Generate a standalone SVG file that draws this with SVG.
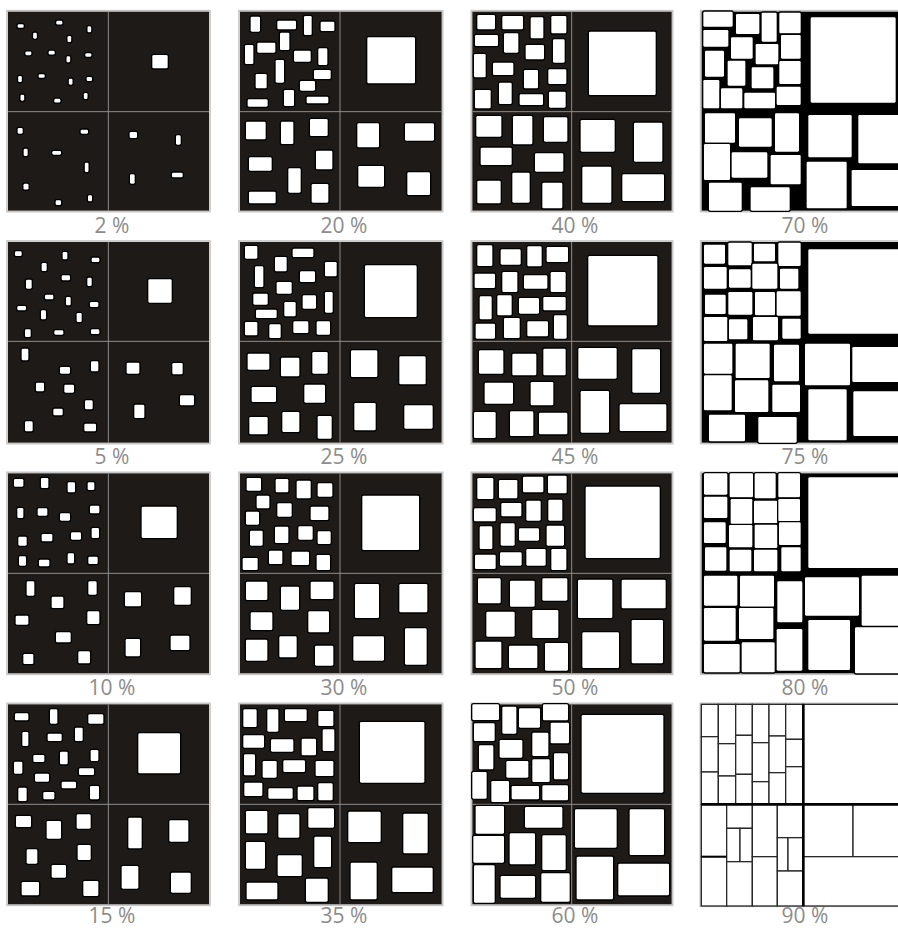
<svg xmlns="http://www.w3.org/2000/svg" width="898" height="930" viewBox="0 0 898 930">
<style>
.pg{fill:#fff}
.bg{fill:#1e1a17}
.bk{fill:#000}
.fr{fill:none;stroke:#c6c6c6;stroke-width:5}
.dv{stroke:#8e8e8e;stroke-width:3;fill:none}
.r rect{fill:#fff;stroke:#000;stroke-width:8;paint-order:stroke;rx:4px}
.g rect{fill:#fff;stroke:#2a2a2a;stroke-width:4}
.thick{stroke:#000;stroke-width:8;fill:none}
.lb{font-family:"Open Sans","DejaVu Sans",sans-serif;font-size:21px;fill:#8c8c8c;text-anchor:middle}
</style>
<rect class="pg" x="0" y="0" width="898" height="930"/>

<!-- Row 1 -->
<g id="panel-2">
<g transform="translate(0 0) scale(0.333333)">
<rect class="fr" x="21" y="32" width="609" height="603"/><rect class="bg" x="24" y="35" width="603" height="597"/>
<path class="dv" d="M325 35V632M24 335H627"/>
<g class="r">
<rect x="53" y="72.5" width="18" height="11"/><rect x="169" y="62.5" width="18" height="11"/><rect x="262.5" y="79" width="11" height="18"/><rect x="99.5" y="98" width="11" height="18"/>
<rect x="202.5" y="108" width="11" height="18"/><rect x="76" y="154.5" width="18" height="11"/><rect x="146" y="152.5" width="18" height="11"/><rect x="256" y="159.5" width="18" height="11"/>
<rect x="199.5" y="169" width="11" height="18"/><rect x="54.5" y="228" width="11" height="18"/><rect x="116" y="222.5" width="18" height="11"/><rect x="206.5" y="236" width="11" height="18"/>
<rect x="260" y="231" width="16" height="12"/><rect x="61.5" y="284" width="11" height="18"/><rect x="163" y="296.5" width="18" height="11"/><rect x="251.5" y="279" width="11" height="18"/>
<rect x="457" y="165" width="46" height="40"/>
<rect x="53" y="384" width="15" height="17"/><rect x="242" y="389" width="22" height="12"/><rect x="71" y="446" width="12" height="22"/><rect x="157" y="453" width="26" height="11"/>
<rect x="254.5" y="488" width="11" height="28"/><rect x="70.5" y="551.5" width="15" height="17"/><rect x="167" y="601" width="16" height="14"/><rect x="264" y="586" width="12" height="18"/>
<rect x="389" y="396" width="22" height="18"/><rect x="528" y="406" width="14" height="28"/><rect x="390" y="523" width="14" height="28"/><rect x="516" y="518" width="32" height="14"/>
</g>
</g>
<text class="lb" x="112" y="233">2 %</text>
</g>

<g id="panel-20">
<g transform="translate(0 0) scale(0.333333)">
<rect class="fr" x="717" y="32" width="611" height="603"/><rect class="bg" x="720" y="35" width="605" height="597"/>
<path class="dv" d="M1020 35V632M720 335H1325"/>
<g class="r">
<rect x="752" y="50" width="28" height="45"/><rect x="832" y="62" width="56" height="26"/><rect x="912" y="48" width="23" height="57"/><rect x="962" y="65" width="41" height="28"/>
<rect x="840" y="98" width="28" height="52"/><rect x="735" y="135" width="25" height="57"/><rect x="772" y="128" width="54" height="30"/><rect x="882" y="152" width="50" height="33"/>
<rect x="955" y="145" width="27" height="50"/><rect x="827" y="180" width="25" height="68"/><rect x="942" y="210" width="50" height="27"/><rect x="767" y="222" width="33" height="43"/>
<rect x="900" y="243" width="45" height="29"/><rect x="852" y="270" width="30" height="48"/><rect x="743" y="298" width="60" height="22"/><rect x="920" y="290" width="65" height="20"/>
<rect x="1102" y="112" width="143" height="138"/>
<rect x="738" y="365" width="59" height="53"/><rect x="843" y="365" width="37" height="67"/><rect x="930" y="357" width="53" height="51"/><rect x="747" y="472" width="68" height="40"/>
<rect x="948" y="452" width="49" height="56"/><rect x="865" y="505" width="37" height="73"/><rect x="747" y="575" width="80" height="35"/><rect x="935" y="552" width="50" height="56"/>
<rect x="1072" y="370" width="65" height="72"/><rect x="1215" y="370" width="87" height="52"/><rect x="1075" y="498" width="77" height="62"/><rect x="1222" y="517" width="68" height="68"/>
</g>
</g>
<text class="lb" x="344" y="233">20 %</text>
</g>

<g id="panel-40">
<g transform="translate(449 0) scale(0.333333)">
<rect class="fr" x="67" y="32" width="604" height="603"/><rect class="bg" x="70" y="35" width="598" height="597"/>
<path class="dv" d="M368 35V632M70 335H668"/>
<g class="r">
<rect x="85" y="45" width="53" height="43"/><rect x="160" y="48" width="62" height="40"/><rect x="245" y="52" width="38" height="63"/><rect x="307" y="48" width="45" height="52"/>
<rect x="78" y="105" width="69" height="33"/><rect x="165" y="100" width="43" height="58"/><rect x="230" y="135" width="55" height="43"/><rect x="312" y="118" width="35" height="70"/>
<rect x="75" y="162" width="35" height="70"/><rect x="132" y="188" width="61" height="37"/><rect x="225" y="210" width="42" height="55"/><rect x="298" y="208" width="54" height="44"/>
<rect x="78" y="270" width="47" height="55"/><rect x="150" y="248" width="38" height="64"/><rect x="212" y="283" width="70" height="32"/><rect x="300" y="275" width="50" height="48"/>
<rect x="420" y="95" width="200" height="190"/>
<rect x="82" y="348" width="75" height="62"/><rect x="192" y="348" width="58" height="85"/><rect x="285" y="352" width="70" height="73"/><rect x="95" y="443" width="93" height="52"/>
<rect x="258" y="460" width="85" height="55"/><rect x="85" y="542" width="70" height="68"/><rect x="190" y="518" width="52" height="90"/><rect x="280" y="548" width="60" height="77"/>
<rect x="395" y="360" width="102" height="95"/><rect x="555" y="368" width="85" height="117"/><rect x="400" y="500" width="87" height="108"/><rect x="520" y="523" width="125" height="80"/>
</g>
</g>
<text class="lb" x="575" y="233">40 %</text>
</g>

<g id="panel-70">
<g transform="translate(449 0) scale(0.333333)">
<rect class="fr" x="755" y="32" width="640" height="603"/><rect class="bk" x="758" y="35" width="640" height="597"/>
<g class="r">
<rect x="763" y="35" width="88" height="45"/><rect x="861" y="42" width="70" height="60"/><rect x="938" y="38" width="45" height="87"/><rect x="991" y="38" width="64" height="62"/>
<rect x="763" y="90" width="75" height="50"/><rect x="846" y="112" width="65" height="64"/><rect x="920" y="132" width="68" height="61"/><rect x="996" y="105" width="59" height="71"/>
<rect x="768" y="152" width="57" height="78"/><rect x="836" y="182" width="53" height="75"/><rect x="908" y="202" width="65" height="63"/><rect x="991" y="183" width="64" height="69"/>
<rect x="763" y="240" width="48" height="85"/><rect x="816" y="265" width="64" height="60"/><rect x="886" y="278" width="92" height="47"/><rect x="983" y="260" width="72" height="55"/>
<rect x="1085" y="52" width="255" height="256"/>
<rect x="768" y="340" width="90" height="88"/><rect x="870" y="355" width="98" height="85"/><rect x="978" y="340" width="72" height="115"/><rect x="765" y="432" width="78" height="108"/>
<rect x="848" y="457" width="107" height="76"/><rect x="965" y="465" width="90" height="88"/><rect x="780" y="548" width="98" height="84"/><rect x="905" y="562" width="117" height="70"/>
<rect x="1078" y="345" width="130" height="127"/><rect x="1228" y="345" width="130" height="145"/><rect x="1073" y="485" width="120" height="140"/><rect x="1208" y="510" width="150" height="108"/>
</g>
</g>
<text class="lb" x="805" y="233">70 %</text>
</g>

<!-- Row 2 -->
<g id="panel-5">
<g transform="translate(0 232) scale(0.333333)">
<rect class="fr" x="21" y="27" width="609" height="608"/><rect class="bg" x="24" y="30" width="603" height="602"/>
<path class="dv" d="M325 30V632M24 328H627"/>
<g class="r">
<rect x="45" y="58" width="20" height="14"/><rect x="188" y="60" width="14" height="22"/><rect x="275" y="77" width="23" height="13"/><rect x="125" y="93" width="15" height="24"/>
<rect x="185" y="130" width="25" height="15"/><rect x="78" y="143" width="17" height="27"/><rect x="262" y="137" width="13" height="25"/><rect x="135" y="188" width="25" height="14"/>
<rect x="198" y="195" width="14" height="25"/><rect x="52" y="222" width="26" height="13"/><rect x="270" y="210" width="25" height="15"/><rect x="123" y="235" width="15" height="27"/>
<rect x="230" y="243" width="15" height="27"/><rect x="75" y="292" width="17" height="23"/><rect x="163" y="295" width="27" height="13"/><rect x="273" y="292" width="25" height="14"/>
<rect x="445" y="142" width="70" height="70"/>
<rect x="65" y="350" width="20" height="35"/><rect x="180" y="405" width="30" height="20"/><rect x="273" y="388" width="22" height="30"/><rect x="108" y="452" width="24" height="26"/>
<rect x="193" y="458" width="29" height="24"/><rect x="255" y="505" width="23" height="27"/><rect x="160" y="530" width="28" height="20"/><rect x="75" y="568" width="23" height="30"/><rect x="253" y="575" width="35" height="23"/>
<rect x="380" y="392" width="38" height="33"/><rect x="517" y="393" width="31" height="34"/><rect x="403" y="518" width="30" height="40"/><rect x="540" y="490" width="42" height="30"/>
</g>
</g>
<text class="lb" x="112" y="464">5 %</text>
</g>

<g id="panel-25">
<g transform="translate(0 232) scale(0.333333)">
<rect class="fr" x="717" y="27" width="611" height="608"/><rect class="bg" x="720" y="30" width="605" height="602"/>
<path class="dv" d="M1020 30V632M720 328H1325"/>
<g class="r">
<rect x="735" y="42" width="37" height="38"/><rect x="878" y="50" width="62" height="25"/><rect x="825" y="75" width="35" height="43"/><rect x="975" y="90" width="35" height="43"/>
<rect x="765" y="103" width="25" height="62"/><rect x="900" y="118" width="45" height="32"/><rect x="830" y="150" width="45" height="35"/><rect x="760" y="185" width="43" height="33"/>
<rect x="975" y="180" width="23" height="62"/><rect x="908" y="190" width="40" height="40"/><rect x="853" y="210" width="34" height="43"/><rect x="768" y="233" width="62" height="25"/>
<rect x="735" y="270" width="37" height="40"/><rect x="808" y="277" width="34" height="41"/><rect x="880" y="268" width="45" height="35"/><rect x="950" y="268" width="40" height="40"/>
<rect x="1095" y="100" width="155" height="155"/>
<rect x="743" y="365" width="65" height="48"/><rect x="843" y="377" width="55" height="56"/><rect x="937" y="360" width="46" height="65"/><rect x="755" y="465" width="73" height="45"/>
<rect x="913" y="458" width="62" height="54"/><rect x="748" y="555" width="55" height="52"/><rect x="847" y="540" width="51" height="60"/><rect x="953" y="552" width="42" height="68"/>
<rect x="1053" y="355" width="79" height="80"/><rect x="1198" y="373" width="79" height="84"/><rect x="1063" y="513" width="64" height="82"/><rect x="1213" y="520" width="85" height="70"/>
</g>
</g>
<text class="lb" x="344" y="464">25 %</text>
</g>

<g id="panel-45">
<g transform="translate(449 232) scale(0.333333)">
<rect class="fr" x="67" y="27" width="604" height="608"/><rect class="bg" x="70" y="30" width="598" height="602"/>
<path class="dv" d="M368 30V632M70 328H668"/>
<g class="r">
<rect x="85" y="40" width="45" height="62"/><rect x="155" y="52" width="60" height="46"/><rect x="235" y="43" width="43" height="60"/><rect x="293" y="45" width="64" height="45"/>
<rect x="77" y="125" width="61" height="43"/><rect x="160" y="120" width="45" height="60"/><rect x="225" y="130" width="70" height="40"/><rect x="305" y="120" width="45" height="60"/>
<rect x="92" y="193" width="36" height="69"/><rect x="145" y="190" width="43" height="60"/><rect x="210" y="198" width="60" height="47"/><rect x="283" y="195" width="67" height="40"/>
<rect x="80" y="275" width="58" height="45"/><rect x="165" y="258" width="47" height="60"/><rect x="235" y="268" width="62" height="45"/><rect x="315" y="250" width="38" height="70"/>
<rect x="418" y="72" width="207" height="208"/>
<rect x="90" y="355" width="73" height="70"/><rect x="190" y="365" width="72" height="65"/><rect x="283" y="350" width="67" height="80"/><rect x="107" y="452" width="85" height="63"/>
<rect x="245" y="450" width="68" height="70"/><rect x="75" y="540" width="65" height="78"/><rect x="183" y="538" width="70" height="74"/><rect x="270" y="542" width="85" height="65"/>
<rect x="388" y="348" width="115" height="92"/><rect x="550" y="352" width="83" height="130"/><rect x="395" y="477" width="85" height="125"/><rect x="512" y="517" width="140" height="80"/>
</g>
</g>
<text class="lb" x="575" y="464">45 %</text>
</g>

<g id="panel-75">
<g transform="translate(449 232) scale(0.333333)">
<rect class="fr" x="755" y="27" width="640" height="608"/><rect class="bk" x="758" y="30" width="640" height="602"/>
<g class="r">
<rect x="765" y="38" width="63" height="57"/><rect x="838" y="32" width="70" height="68"/><rect x="915" y="35" width="63" height="53"/><rect x="988" y="32" width="67" height="70"/>
<rect x="765" y="105" width="68" height="65"/><rect x="840" y="112" width="65" height="55"/><rect x="910" y="95" width="75" height="75"/><rect x="993" y="110" width="55" height="60"/>
<rect x="768" y="188" width="62" height="58"/><rect x="838" y="180" width="72" height="68"/><rect x="918" y="180" width="60" height="70"/><rect x="983" y="178" width="72" height="73"/>
<rect x="765" y="255" width="70" height="72"/><rect x="840" y="262" width="55" height="60"/><rect x="912" y="255" width="75" height="70"/><rect x="1000" y="260" width="55" height="60"/>
<rect x="1078" y="52" width="280" height="253"/>
<rect x="765" y="335" width="85" height="90"/><rect x="860" y="335" width="102" height="103"/><rect x="975" y="338" width="75" height="110"/><rect x="765" y="430" width="83" height="105"/>
<rect x="858" y="445" width="100" height="95"/><rect x="970" y="458" width="83" height="82"/><rect x="780" y="548" width="108" height="80"/><rect x="928" y="555" width="115" height="77"/>
<rect x="1068" y="335" width="135" height="125"/><rect x="1210" y="345" width="150" height="105"/><rect x="1078" y="472" width="115" height="153"/><rect x="1213" y="478" width="150" height="134"/>
</g>
</g>
<text class="lb" x="805" y="464">75 %</text>
</g>

<!-- Row 3 -->
<g id="panel-10">
<g transform="translate(0 464) scale(0.333333)">
<rect class="fr" x="21" y="25" width="609" height="606"/><rect class="bg" x="24" y="28" width="603" height="600"/>
<path class="dv" d="M325 28V628M24 328H627"/>
<g class="r">
<rect x="42" y="45" width="28" height="23"/><rect x="123" y="42" width="22" height="30"/><rect x="203" y="55" width="22" height="30"/><rect x="263" y="55" width="20" height="23"/>
<rect x="52" y="132" width="18" height="30"/><rect x="113" y="133" width="29" height="22"/><rect x="180" y="148" width="30" height="22"/><rect x="270" y="125" width="28" height="23"/>
<rect x="55" y="218" width="25" height="27"/><rect x="125" y="210" width="32" height="22"/><rect x="213" y="205" width="30" height="22"/><rect x="275" y="192" width="22" height="30"/>
<rect x="57" y="277" width="21" height="28"/><rect x="117" y="287" width="31" height="20"/><rect x="203" y="268" width="19" height="30"/><rect x="265" y="278" width="28" height="22"/>
<rect x="425" y="128" width="105" height="94"/>
<rect x="80" y="352" width="23" height="43"/><rect x="155" y="398" width="35" height="34"/><rect x="265" y="352" width="25" height="40"/><rect x="47" y="455" width="38" height="27"/>
<rect x="262" y="442" width="36" height="38"/><rect x="168" y="505" width="44" height="30"/><rect x="70" y="570" width="30" height="30"/><rect x="235" y="562" width="35" height="36"/>
<rect x="375" y="385" width="48" height="42"/><rect x="523" y="370" width="49" height="52"/><rect x="377" y="525" width="43" height="52"/><rect x="512" y="515" width="56" height="43"/>
</g>
</g>
<text class="lb" x="112" y="695">10 %</text>
</g>

<g id="panel-30">
<g transform="translate(0 464) scale(0.333333)">
<rect class="fr" x="717" y="25" width="611" height="606"/><rect class="bg" x="720" y="28" width="605" height="600"/>
<path class="dv" d="M1020 28V628M720 328H1325"/>
<g class="r">
<rect x="740" y="42" width="43" height="38"/><rect x="827" y="45" width="38" height="40"/><rect x="890" y="50" width="42" height="53"/><rect x="953" y="58" width="44" height="40"/>
<rect x="770" y="95" width="38" height="38"/><rect x="832" y="118" width="43" height="40"/><rect x="932" y="128" width="53" height="40"/><rect x="738" y="143" width="39" height="39"/>
<rect x="750" y="200" width="38" height="45"/><rect x="825" y="188" width="40" height="49"/><rect x="895" y="187" width="43" height="40"/><rect x="953" y="202" width="39" height="38"/>
<rect x="728" y="282" width="45" height="36"/><rect x="807" y="260" width="40" height="40"/><rect x="875" y="263" width="52" height="40"/><rect x="950" y="273" width="40" height="45"/>
<rect x="1087" y="95" width="170" height="163"/>
<rect x="738" y="353" width="64" height="55"/><rect x="843" y="368" width="54" height="69"/><rect x="932" y="353" width="68" height="52"/><rect x="752" y="445" width="65" height="53"/>
<rect x="925" y="442" width="62" height="63"/><rect x="738" y="527" width="64" height="63"/><rect x="838" y="517" width="52" height="63"/><rect x="945" y="545" width="55" height="60"/>
<rect x="1065" y="360" width="72" height="102"/><rect x="1198" y="360" width="84" height="85"/><rect x="1060" y="517" width="92" height="73"/><rect x="1215" y="493" width="65" height="109"/>
</g>
</g>
<text class="lb" x="344" y="695">30 %</text>
</g>

<g id="panel-50">
<g transform="translate(449 464) scale(0.333333)">
<rect class="fr" x="67" y="25" width="604" height="606"/><rect class="bg" x="70" y="28" width="598" height="600"/>
<path class="dv" d="M368 28V628M70 328H668"/>
<g class="r">
<rect x="85" y="42" width="48" height="63"/><rect x="150" y="48" width="55" height="55"/><rect x="222" y="38" width="61" height="47"/><rect x="297" y="35" width="56" height="53"/>
<rect x="75" y="133" width="65" height="39"/><rect x="157" y="117" width="60" height="40"/><rect x="232" y="110" width="43" height="60"/><rect x="298" y="107" width="42" height="63"/>
<rect x="92" y="187" width="38" height="68"/><rect x="155" y="178" width="42" height="67"/><rect x="210" y="193" width="60" height="37"/><rect x="293" y="185" width="52" height="60"/>
<rect x="78" y="272" width="62" height="43"/><rect x="153" y="265" width="65" height="40"/><rect x="232" y="255" width="58" height="50"/><rect x="307" y="255" width="45" height="63"/>
<rect x="410" y="68" width="222" height="214"/>
<rect x="87" y="343" width="68" height="75"/><rect x="183" y="350" width="74" height="78"/><rect x="280" y="343" width="75" height="67"/><rect x="112" y="443" width="85" height="75"/>
<rect x="250" y="438" width="78" height="84"/><rect x="80" y="533" width="77" height="79"/><rect x="180" y="545" width="85" height="67"/><rect x="288" y="537" width="69" height="83"/>
<rect x="387" y="347" width="103" height="115"/><rect x="518" y="347" width="132" height="86"/><rect x="400" y="505" width="110" height="107"/><rect x="548" y="468" width="94" height="130"/>
</g>
</g>
<text class="lb" x="575" y="695">50 %</text>
</g>

<g id="panel-80">
<g transform="translate(449 464) scale(0.333333)">
<rect class="fr" x="755" y="25" width="640" height="606"/><rect class="bk" x="758" y="28" width="640" height="600"/>
<g class="r">
<rect x="765" y="28" width="70" height="64"/><rect x="842" y="28" width="70" height="72"/><rect x="917" y="28" width="63" height="75"/><rect x="988" y="28" width="65" height="72"/>
<rect x="765" y="98" width="70" height="64"/><rect x="845" y="105" width="65" height="75"/><rect x="915" y="110" width="70" height="68"/><rect x="988" y="105" width="65" height="67"/>
<rect x="765" y="175" width="65" height="62"/><rect x="840" y="183" width="70" height="67"/><rect x="917" y="182" width="68" height="70"/><rect x="990" y="175" width="65" height="68"/>
<rect x="768" y="250" width="64" height="70"/><rect x="842" y="257" width="65" height="65"/><rect x="915" y="257" width="70" height="65"/><rect x="997" y="250" width="58" height="72"/>
<rect x="1078" y="40" width="280" height="272"/>
<rect x="765" y="335" width="100" height="90"/><rect x="873" y="335" width="102" height="93"/><rect x="985" y="352" width="75" height="123"/><rect x="765" y="432" width="95" height="98"/>
<rect x="870" y="432" width="103" height="93"/><rect x="983" y="495" width="77" height="125"/><rect x="765" y="540" width="107" height="85"/><rect x="878" y="535" width="99" height="90"/>
<rect x="1068" y="340" width="162" height="115"/><rect x="1238" y="335" width="120" height="150"/><rect x="1078" y="468" width="125" height="150"/><rect x="1218" y="490" width="140" height="138"/>
</g>
</g>
<text class="lb" x="805" y="695">80 %</text>
</g>

<!-- Row 4 -->
<g id="panel-15">
<g transform="translate(0 696) scale(0.333333)">
<rect class="fr" x="21" y="22" width="609" height="606"/><rect class="bg" x="24" y="25" width="603" height="600"/>
<path class="dv" d="M325 25V625M24 325H627"/>
<g class="r">
<rect x="45" y="52" width="40" height="21"/><rect x="150" y="40" width="22" height="43"/><rect x="265" y="55" width="45" height="28"/><rect x="67" y="108" width="18" height="42"/>
<rect x="143" y="113" width="42" height="22"/><rect x="225" y="95" width="23" height="40"/><rect x="100" y="177" width="33" height="21"/><rect x="180" y="167" width="23" height="38"/>
<rect x="272" y="162" width="23" height="33"/><rect x="42" y="197" width="25" height="36"/><rect x="105" y="233" width="42" height="24"/><rect x="237" y="217" width="45" height="20"/>
<rect x="185" y="257" width="43" height="20"/><rect x="55" y="275" width="25" height="40"/><rect x="130" y="288" width="33" height="22"/><rect x="270" y="270" width="27" height="40"/>
<rect x="415" y="112" width="125" height="120"/>
<rect x="48" y="360" width="45" height="33"/><rect x="140" y="375" width="43" height="53"/><rect x="230" y="355" width="42" height="43"/><rect x="80" y="460" width="32" height="43"/>
<rect x="233" y="447" width="39" height="45"/><rect x="155" y="507" width="43" height="38"/><rect x="65" y="558" width="52" height="40"/><rect x="250" y="555" width="45" height="45"/>
<rect x="385" y="365" width="40" height="92"/><rect x="508" y="373" width="57" height="64"/><rect x="365" y="510" width="50" height="68"/><rect x="513" y="530" width="59" height="60"/>
</g>
</g>
<text class="lb" x="112" y="923">15 %</text>
</g>

<g id="panel-35">
<g transform="translate(0 696) scale(0.333333)">
<rect class="fr" x="717" y="22" width="611" height="606"/><rect class="bg" x="720" y="25" width="605" height="600"/>
<path class="dv" d="M1020 25V625M720 325H1325"/>
<g class="r">
<rect x="730" y="40" width="40" height="53"/><rect x="802" y="40" width="33" height="67"/><rect x="855" y="40" width="65" height="35"/><rect x="955" y="45" width="45" height="45"/>
<rect x="730" y="118" width="62" height="37"/><rect x="813" y="130" width="67" height="37"/><rect x="905" y="128" width="43" height="50"/><rect x="968" y="100" width="35" height="65"/>
<rect x="732" y="175" width="33" height="63"/><rect x="788" y="195" width="42" height="50"/><rect x="850" y="193" width="65" height="35"/><rect x="947" y="195" width="53" height="45"/>
<rect x="733" y="260" width="54" height="40"/><rect x="805" y="277" width="73" height="31"/><rect x="893" y="272" width="47" height="40"/><rect x="955" y="262" width="43" height="51"/>
<rect x="1080" y="78" width="193" height="182"/>
<rect x="738" y="345" width="64" height="67"/><rect x="835" y="355" width="63" height="70"/><rect x="925" y="337" width="77" height="58"/><rect x="738" y="438" width="57" height="80"/>
<rect x="943" y="422" width="50" height="91"/><rect x="833" y="478" width="72" height="62"/><rect x="740" y="560" width="92" height="50"/><rect x="918" y="548" width="65" height="69"/>
<rect x="1045" y="347" width="97" height="91"/><rect x="1210" y="353" width="73" height="119"/><rect x="1052" y="500" width="78" height="110"/><rect x="1177" y="515" width="121" height="73"/>
</g>
</g>
<text class="lb" x="344" y="923">35 %</text>
</g>

<g id="panel-60">
<g transform="translate(449 696) scale(0.333333)">
<rect class="fr" x="67" y="22" width="604" height="606"/><rect class="bg" x="70" y="25" width="598" height="600"/>
<path class="dv" d="M368 25V625M70 325H668"/>
<g class="r">
<rect x="70" y="25" width="80" height="47"/><rect x="160" y="32" width="42" height="81"/><rect x="210" y="37" width="63" height="58"/><rect x="282" y="25" width="75" height="48"/>
<rect x="75" y="82" width="62" height="53"/><rect x="305" y="80" width="55" height="62"/><rect x="90" y="148" width="43" height="72"/><rect x="152" y="132" width="68" height="53"/>
<rect x="250" y="110" width="48" height="70"/><rect x="315" y="172" width="42" height="78"/><rect x="172" y="195" width="66" height="50"/><rect x="250" y="190" width="52" height="68"/>
<rect x="70" y="228" width="43" height="80"/><rect x="127" y="255" width="53" height="63"/><rect x="188" y="270" width="82" height="40"/><rect x="280" y="268" width="77" height="45"/>
<rect x="398" y="57" width="245" height="233"/>
<rect x="80" y="330" width="85" height="83"/><rect x="228" y="333" width="112" height="62"/><rect x="73" y="420" width="92" height="80"/><rect x="182" y="412" width="76" height="93"/>
<rect x="280" y="418" width="70" height="104"/><rect x="75" y="508" width="62" height="112"/><rect x="155" y="540" width="103" height="65"/><rect x="277" y="532" width="85" height="85"/>
<rect x="378" y="340" width="125" height="115"/><rect x="542" y="340" width="103" height="137"/><rect x="383" y="482" width="109" height="128"/><rect x="508" y="503" width="152" height="95"/>
</g>
</g>
<text class="lb" x="575" y="923">60 %</text>
</g>

<g id="panel-90">
<g transform="translate(449 696) scale(0.333333)">
<rect class="fr" x="754" y="22" width="640" height="609"/>
<g class="g">
<rect x="757" y="25" width="51" height="97"/><rect x="757" y="122" width="51" height="106"/><rect x="757" y="228" width="51" height="97"/>
<rect x="808" y="25" width="52" height="118"/><rect x="808" y="143" width="52" height="97"/><rect x="808" y="240" width="52" height="85"/>
<rect x="860" y="25" width="50" height="93"/><rect x="860" y="118" width="50" height="117"/><rect x="860" y="235" width="50" height="90"/>
<rect x="910" y="25" width="50" height="115"/><rect x="910" y="140" width="50" height="117"/><rect x="910" y="257" width="50" height="68"/>
<rect x="960" y="25" width="50" height="95"/><rect x="960" y="120" width="50" height="110"/><rect x="960" y="230" width="50" height="95"/>
<rect x="1010" y="25" width="53" height="105"/><rect x="1010" y="130" width="53" height="82"/><rect x="1010" y="212" width="53" height="113"/>
<rect x="757" y="325" width="76" height="157"/><rect x="757" y="482" width="76" height="148"/>
<rect x="833" y="325" width="77" height="72"/><rect x="833" y="397" width="40" height="100"/><rect x="873" y="397" width="37" height="100"/><rect x="833" y="497" width="77" height="133"/>
<rect x="910" y="325" width="75" height="157"/><rect x="910" y="482" width="75" height="148"/>
<rect x="985" y="325" width="78" height="100"/><rect x="985" y="425" width="32" height="100"/><rect x="1017" y="425" width="46" height="100"/><rect x="985" y="525" width="78" height="105"/>
<rect x="1063" y="25" width="300" height="300"/>
<rect x="1063" y="325" width="149" height="157"/><rect x="1212" y="325" width="151" height="157"/><rect x="1063" y="482" width="300" height="148"/>
</g>
<path class="thick" d="M1063 25V630M757 325H1360"/>
<path d="M757 482H833" stroke="#000" stroke-width="6"/>
</g>
<text class="lb" x="805" y="923">90 %</text>
</g>
</svg>
